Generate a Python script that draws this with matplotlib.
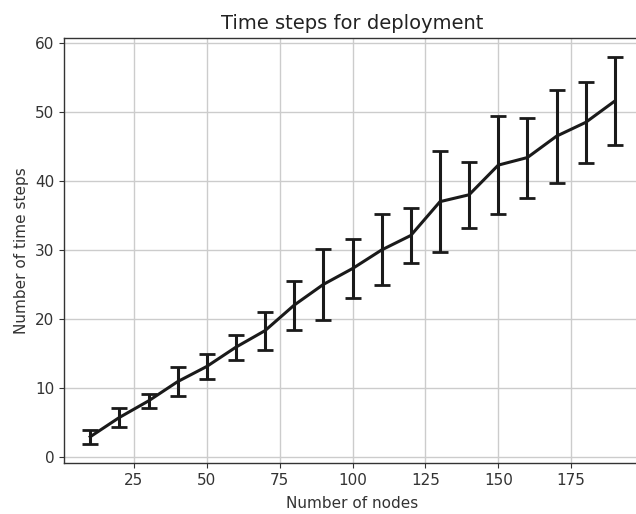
import matplotlib
matplotlib.use("Agg")
import matplotlib.pyplot as plt

nodes = [10, 20, 30, 40, 50, 60, 70, 80, 90, 100, 110, 120, 130, 140, 150, 160, 170, 180, 190]
mean_steps = [2.9, 5.7, 8.1, 10.9, 13.1, 15.9, 18.3, 22.0, 25.0, 27.3, 30.0, 32.1, 37.0, 38.0, 42.3, 43.4, 46.5, 48.5, 51.6]
std_steps = [1.0, 1.4, 1.05, 2.1, 1.85, 1.8, 2.75, 3.55, 5.15, 4.3, 5.15, 4.0, 7.35, 4.8, 7.1, 5.8, 6.75, 5.85, 6.4]

fig = plt.figure(figsize=(6.36, 5.14), dpi=100)
ax = fig.add_axes([0.1006, 0.0992, 1.008 - 0.1006, 0.927 - 0.0992])

ax.errorbar(nodes, mean_steps, yerr=std_steps, color="#1a1a1a", linewidth=2.2,
            elinewidth=2.2, capsize=5.8, capthick=2.0)

ax.set_xticks([25, 50, 75, 100, 125, 150, 175])
ax.set_yticks([0, 10, 20, 30, 40, 50, 60])
ax.grid(True, color="#cccccc", linewidth=1.0)
ax.set_axisbelow(True)
ax.tick_params(labelsize=11, color="#333333", labelcolor="#333333")
ax.set_title("Time steps for deployment", fontsize=14, color="#222222")
ax.set_xlabel("Number of nodes", fontsize=11, color="#333333", labelpad=6)
ax.set_ylabel("Number of time steps", fontsize=11, color="#333333")
ax.spines["right"].set_visible(False)
for s in ax.spines.values():
    s.set_color("#333333")
    s.set_linewidth(1.0)

fig.savefig("out.png", dpi=100)
